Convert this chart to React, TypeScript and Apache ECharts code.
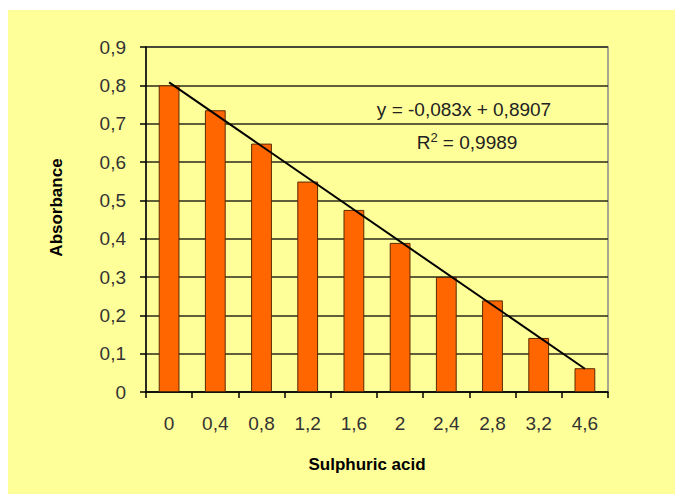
import React, { useEffect, useRef } from "react";
import * as echarts from "echarts";

const categories = ["0", "0,4", "0,8", "1,2", "1,6", "2", "2,4", "2,8", "3,2", "4,6"];
const absorbance = [0.8, 0.735, 0.648, 0.549, 0.475, 0.389, 0.3, 0.239, 0.141, 0.062];
// linear trendline y = -0.083x + 0.8907 evaluated at first (x=1) and last (x=10) category
const trendSlope = -0.083;
const trendIntercept = 0.8907;
const equationText = "y = -0,083x + 0,8907";
const r2Text = "R{sup|2} = 0,9989";

const FONT = "Liberation Sans, Arial, sans-serif";

export default function App() {
  const ref = useRef<HTMLDivElement>(null);
  useEffect(() => {
    if (!ref.current) return;
    const chart = echarts.init(ref.current, undefined, { renderer: "svg" });
    const n = categories.length;
    const trend = categories.map((_, i) =>
      i === 0 || i === n - 1 ? +(trendSlope * (i + 1) + trendIntercept).toFixed(4) : null
    );
    chart.setOption({
      animation: false,
      backgroundColor: "#FFFF99",
      textStyle: { fontFamily: FONT },
      grid: {
        left: 138,
        top: 37,
        right: 67,
        bottom: 102,
        show: true,
        borderColor: "#8c8c8c",
        borderWidth: 1.5,
        backgroundColor: "transparent",
      },
      xAxis: {
        type: "category",
        data: categories,
        boundaryGap: true,
        name: "Sulphuric acid",
        nameLocation: "middle",
        nameGap: 64,
        nameTextStyle: { fontSize: 17, fontWeight: "bold", color: "#000", padding: [0, 20, 0, 0] },
        axisLine: { lineStyle: { color: "#000", width: 1.5 } },
        axisTick: { show: true, length: 6, lineStyle: { color: "#000", width: 1.5 } },
        axisLabel: { fontSize: 19, color: "#333", margin: 22 },
        splitLine: { show: false },
      },
      yAxis: {
        type: "value",
        min: 0,
        max: 0.9,
        interval: 0.1,
        name: "Absorbance",
        nameLocation: "middle",
        nameGap: 81,
        nameRotate: 90,
        nameTextStyle: { fontSize: 17, fontWeight: "bold", color: "#000", padding: [0, 0, 0, 24] },
        axisLine: { show: true, lineStyle: { color: "#000", width: 1.5 } },
        axisTick: { show: true, length: 6, lineStyle: { color: "#000", width: 1.5 } },
        axisLabel: {
          fontSize: 19,
          color: "#333",
          margin: 20,
          formatter: (v: number) => (v === 0 ? "0" : v.toFixed(1).replace(".", ",")),
        },
        splitLine: { show: true, lineStyle: { color: "#2a2a1a", width: 1.5 } },
      },
      series: [
        {
          type: "bar",
          data: absorbance,
          barWidth: "45%",
          itemStyle: { color: "#FF6600", borderColor: "#5a2a00", borderWidth: 1 },
          z: 2,
        },
        {
          type: "line",
          data: trend,
          connectNulls: true,
          showSymbol: false,
          symbol: "none",
          lineStyle: { color: "#000", width: 2 },
          z: 3,
        },
      ],
      graphic: [
        {
          type: "text",
          x: 456,
          y: 99,
          style: {
            text: equationText,
            fontSize: 19,
            fill: "#222",
            fontFamily: FONT,
            textAlign: "center",
            textVerticalAlign: "middle",
          },
        },
        {
          type: "text",
          x: 459,
          y: 132,
          style: {
            text: r2Text,
            fontSize: 19,
            fill: "#222",
            fontFamily: FONT,
            textAlign: "center",
            textVerticalAlign: "middle",
            rich: {
              sup: { fontSize: 13, verticalAlign: "top", padding: [0, 0, 9, 0], fill: "#222", fontFamily: FONT },
            },
          },
        },
      ],
    });
    return () => chart.dispose();
  }, []);
  return (
    <div
      ref={ref}
      style={{ position: "absolute", left: 8, top: 10, width: 667, height: 484 }}
    />
  );
}
